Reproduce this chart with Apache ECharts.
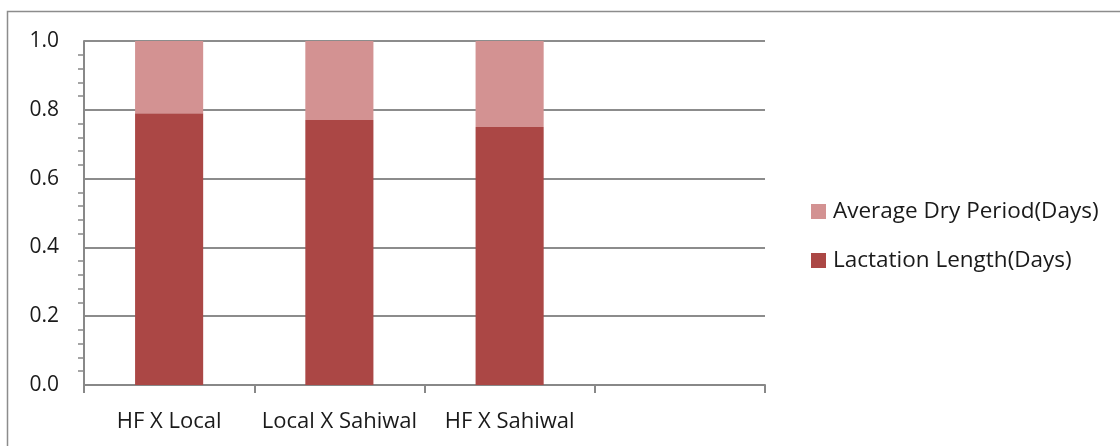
<!DOCTYPE html>
<html><head><meta charset="utf-8">
<script src="https://cdn.jsdelivr.net/npm/echarts@6/dist/echarts.min.js"></script>
<style>html,body{margin:0;padding:0;background:#fff}#c{width:1120px;height:446px}</style>
</head><body><div id="c"></div>
<script>
const categories = ['HF X Local', 'Local X Sahiwal', 'HF X Sahiwal', ''];
const lactationLength = [0.79, 0.77, 0.75, null];
const dryPeriod = [0.21, 0.23, 0.25, null];
const yTicks = [0, 0.2, 0.4, 0.6, 0.8, 1.0];

const FONT = 'Open Sans';
const chart = echarts.init(document.getElementById('c'));
chart.setOption({
  animation: false,
  backgroundColor: '#fff',
  graphic: [{
    type: 'rect', shape: {x: 7.5, y: 11.5, width: 1300, height: 600},
    style: {fill: 'none', stroke: '#8c8c8c', lineWidth: 1.5}, silent: true
  }],
  grid: {left: 84, top: 41, right: 355, bottom: 61, containLabel: false},
  legend: {
    orient: 'vertical', left: 806, top: 195, itemGap: 26,
    itemWidth: 15, itemHeight: 15, icon: 'rect',
    data: ['Average Dry Period(Days)', 'Lactation Length(Days)'],
    textStyle: {fontFamily: FONT, fontSize: 22.5, color: '#1a1a1a', padding: [0, 0, 0, 2]}
  },
  xAxis: {
    type: 'category', data: categories,
    axisLine: {lineStyle: {color: '#888', width: 2}},
    axisTick: {show: true, length: 8, lineStyle: {color: '#888', width: 2}},
    axisLabel: {fontFamily: FONT, fontSize: 22, color: '#1a1a1a', margin: 26, interval: 0}
  },
  yAxis: {
    type: 'value', min: 0, max: 1, interval: 0.2,
    axisLine: {show: true, lineStyle: {color: '#888', width: 2}},
    axisTick: {show: false},
    minorTick: {show: true, splitNumber: 5, length: 6, lineStyle: {color: '#888', width: 1.5}},
    splitLine: {lineStyle: {color: '#8c8c8c', width: 2}},
    axisLabel: {fontFamily: FONT, fontSize: 21, color: '#1a1a1a', margin: 25,
      formatter: v => v.toFixed(1)}
  },
  series: [
    {name: 'Lactation Length(Days)', type: 'bar', stack: 's', barWidth: '40%',
      data: lactationLength, itemStyle: {color: '#AB4745'}},
    {name: 'Average Dry Period(Days)', type: 'bar', stack: 's', barWidth: '40%',
      data: dryPeriod, itemStyle: {color: '#D39292'}}
  ]
});
</script></body></html>
